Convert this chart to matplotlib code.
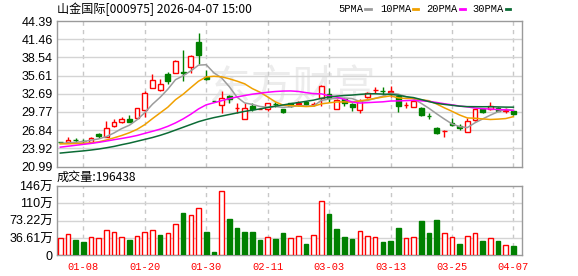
import matplotlib
matplotlib.use("Agg")
import matplotlib.pyplot as plt
from matplotlib.lines import Line2D
import numpy as np

# ---------------- data ----------------
dates = ["01-05", "01-06", "01-07", "01-08", "01-09", "01-12", "01-13", "01-14", "01-15", "01-16",
         "01-19", "01-20", "01-21", "01-22", "01-23", "01-26", "01-27", "01-28", "01-29", "01-30",
         "02-02", "02-03", "02-04", "02-05", "02-06", "02-09", "02-10", "02-11", "02-12", "02-13",
         "02-24", "02-25", "02-26", "02-27", "03-02", "03-03", "03-04", "03-05", "03-06", "03-09",
         "03-10", "03-11", "03-12", "03-13", "03-16", "03-17", "03-18", "03-19", "03-20", "03-23",
         "03-24", "03-25", "03-26", "03-27", "03-30", "03-31", "04-01", "04-02", "04-03", "04-07"]

opens = [24.92, 24.90, 25.26, 25.13, 24.90, 26.24, 25.80, 27.57, 28.12, 28.65,
         28.76, 30.14, 33.58, 33.26, 35.93, 36.09, 36.20, 36.96, 41.07, 35.35,
         31.52, 30.85, 32.30, 30.40, 28.65, 30.74, 30.22, 30.26, 31.05, 30.26,
         31.17, 31.12, 31.33, 31.06, 32.07, 32.67, 30.31, 31.86, 31.11, 30.14,
         32.14, 33.25, 33.14, 33.00, 32.39, 30.86, 30.63, 30.42, 29.17, 27.25,
         26.68, 28.05, 27.52, 26.61, 28.49, 30.21, 30.31, 30.42, 29.95, 29.98]

highs = [24.95, 25.80, 25.64, 25.48, 25.71, 26.45, 28.33, 28.60, 28.97, 29.24,
         30.47, 33.20, 35.88, 35.03, 36.20, 38.13, 39.74, 38.99, 42.52, 36.53,
         31.55, 33.10, 32.51, 31.27, 31.27, 31.27, 30.45, 31.25, 31.43, 30.30,
         31.25, 31.53, 31.43, 31.43, 34.11, 33.58, 31.91, 32.02, 31.27, 31.86,
         33.04, 33.84, 33.84, 33.95, 32.67, 31.33, 31.81, 30.63, 29.66, 27.36,
         26.80, 28.76, 27.89, 28.76, 30.31, 30.37, 31.38, 30.53, 30.37, 30.14]

lows = [24.85, 24.85, 24.90, 24.79, 24.74, 25.64, 25.80, 27.31, 27.95, 28.22,
        28.60, 29.02, 33.58, 33.20, 34.32, 35.99, 34.81, 35.99, 37.55, 34.92,
        31.45, 29.66, 31.22, 29.66, 28.60, 29.98, 30.18, 29.98, 30.63, 29.65,
        30.58, 30.79, 30.79, 30.69, 30.69, 31.43, 30.21, 30.74, 29.98, 29.62,
        31.98, 32.88, 32.46, 32.14, 29.73, 30.37, 30.53, 29.13, 28.60, 26.24,
        25.80, 27.47, 26.83, 26.56, 28.38, 29.66, 30.14, 29.88, 29.61, 29.34]

closes = [24.90, 25.30, 25.24, 25.11, 25.54, 25.96, 27.15, 28.17, 28.65, 28.22,
          30.37, 32.83, 34.92, 34.28, 34.71, 38.02, 36.04, 38.80, 38.90, 35.03,
          31.49, 31.98, 31.78, 30.46, 30.37, 30.30, 30.28, 31.17, 31.01, 29.73,
          30.79, 31.17, 31.01, 31.11, 34.00, 31.98, 31.70, 31.27, 30.63, 31.59,
          32.88, 33.31, 33.10, 33.06, 30.79, 30.92, 31.59, 29.34, 29.13, 26.35,
          26.74, 27.64, 27.15, 28.38, 30.21, 29.82, 30.69, 29.98, 30.00, 29.45]

ma5 = [24.72, 24.78, 24.88, 25.00, 25.22, 25.43, 25.80, 26.39, 27.09, 27.63,
       28.51, 29.65, 31.00, 32.12, 33.42, 34.95, 35.59, 36.37, 37.29, 37.36,
       36.05, 35.24, 33.84, 32.15, 31.22, 30.98, 30.64, 30.52, 30.63, 30.50,
       30.60, 30.77, 30.74, 30.76, 31.62, 31.85, 31.96, 32.01, 31.92, 31.43,
       31.61, 31.94, 32.30, 32.79, 32.63, 32.24, 31.89, 31.14, 30.35, 29.47,
       28.63, 27.84, 27.40, 27.25, 28.02, 28.64, 29.25, 29.79, 30.19, 30.04]

ma10 = [24.62, 24.64, 24.68, 24.73, 24.80, 24.95, 25.25, 25.60, 25.98, 26.42,
        26.97, 27.72, 28.69, 29.61, 30.53, 31.73, 32.62, 33.68, 34.71, 35.39,
        35.50, 35.42, 35.10, 34.72, 34.29, 33.52, 32.94, 32.18, 31.39, 30.86,
        30.79, 30.71, 30.63, 30.69, 31.06, 31.23, 31.37, 31.38, 31.34, 31.53,
        31.73, 31.95, 32.16, 32.35, 32.03, 31.93, 31.91, 31.72, 31.57, 31.05,
        30.43, 29.87, 29.27, 28.80, 28.75, 28.64, 28.55, 28.61, 28.70, 29.01]

ma20 = [24.10, 24.25, 24.40, 24.55, 24.70, 24.88, 25.08, 25.30, 25.50, 25.72,
        25.98, 26.32, 26.65, 27.00, 27.45, 28.00, 28.65, 29.40, 30.25, 30.91,
        31.24, 31.57, 31.90, 32.17, 32.41, 32.62, 32.78, 32.93, 33.05, 33.12,
        33.14, 33.06, 32.87, 32.71, 32.67, 32.37, 32.15, 31.78, 31.36, 31.19,
        31.26, 31.33, 31.39, 31.52, 31.54, 31.58, 31.64, 31.55, 31.46, 31.29,
        31.08, 30.91, 30.71, 30.58, 30.39, 30.28, 30.23, 30.15, 30.12, 30.01]

ma30 = [23.15, 23.27, 23.39, 23.50, 23.64, 23.80, 24.00, 24.22, 24.50, 24.75,
        25.05, 25.35, 25.65, 26.00, 26.40, 26.85, 27.30, 27.75, 28.20, 28.55,
        28.85, 29.10, 29.35, 29.60, 29.85, 30.05, 30.25, 30.48, 30.70, 30.89,
        31.09, 31.28, 31.47, 31.67, 31.96, 32.16, 32.31, 32.41, 32.48, 32.59,
        32.67, 32.69, 32.63, 32.59, 32.46, 32.22, 32.07, 31.76, 31.43, 31.14,
        30.98, 30.84, 30.69, 30.62, 30.61, 30.60, 30.61, 30.57, 30.54, 30.53]

# volume in units of 10k (万)
volume = [36.0, 44.4, 32.4, 28.1, 38.1, 36.0, 53.5, 48.7, 38.1, 32.4,
          40.2, 48.7, 53.5, 43.0, 46.6, 65.6, 89.5, 84.6, 99.5, 49.3,
          7.0, 135.4, 76.2, 57.8, 49.3, 49.3, 33.0, 38.1, 34.5, 47.2,
          36.0, 40.2, 23.9, 42.3, 114.9, 87.4, 55.7, 38.7, 34.5, 51.4,
          40.8, 38.7, 28.1, 30.3, 57.8, 36.0, 38.7, 72.6, 47.2, 74.7,
          46.6, 38.7, 23.9, 40.8, 46.6, 30.3, 36.6, 30.3, 21.8, 19.6438]

price_ticks = [20.99, 23.92, 26.84, 29.77, 32.69, 35.61, 38.54, 41.46, 44.39]
vol_ticks = [0, 36.61, 73.22, 109.83, 146.44]
vol_tick_labels = ["0", "36.61万", "73.22万", "110万", "146万"]
date_tick_idx = [3, 11, 19, 27, 35, 43, 51, 59]

title = "山金国际[000975] 2026-04-07 15:00"
vol_title = "成交量:196438"
legend_names = ["5PMA", "10PMA", "20PMA", "30PMA"]

# ---------------- styling ----------------
RED = "#ff0000"
GREEN = "#008000"
MA_COLORS = ["#9c9c9c", "#f0a000", "#ff00ff", "#0b6b35"]
GRID = "#d4d4d4"
SPINE = "#9a9a9a"
CJK = ["Noto Sans CJK SC", "DejaVu Sans"]
NUM = ["Liberation Sans", "Noto Sans CJK SC"]

W, H = 578, 276
fig = plt.figure(figsize=(W / 100, H / 100), dpi=100)
fig.patch.set_facecolor("white")
L, R = 57, 522
ax = fig.add_axes([L / W, 1 - 166.5 / H, (R - L) / W, (166.5 - 21) / H])
axv = fig.add_axes([L / W, 1 - 255.3 / H, (R - L) / W, (255.3 - 186) / H])

o = np.array(opens); c = np.array(closes)
hi = np.array(highs); lo = np.array(lows)
x = np.arange(len(c))
cand_up = c > o
cand_col = np.where(cand_up, RED, GREEN)
cand_face = np.where(cand_up, "white", GREEN)

prev = np.concatenate([[c[0]], c[:-1]])
vol_up = c >= prev
vol_col = np.where(vol_up, RED, GREEN)
vol_face = np.where(vol_up, "white", GREEN)

xlim = (-0.43, 60.12)
for a in (ax, axv):
    a.set_xlim(*xlim)
    a.set_xticks(date_tick_idx)
    a.tick_params(axis="both", length=0)
    for s in a.spines.values():
        s.set_color(SPINE)
        s.set_linewidth(1)
    for xi in date_tick_idx:
        a.axvline(xi, color="#c8c8c8", lw=1, ls=(0, (3, 3)), zorder=1)

# watermark
ax.text(0.505, 0.53, "东方财富", transform=ax.transAxes, ha="center", va="center",
        fontsize=30, color="#ececec", family=CJK, zorder=0.5)

# price panel
ax.set_ylim(price_ticks[0], price_ticks[-1])
ax.set_yticks(price_ticks)
ax.set_yticklabels([f"{t:.2f}" for t in price_ticks], family=NUM, fontsize=9)
for t in price_ticks[1:-1]:
    ax.axhline(t, color=GRID, lw=1, zorder=1)
ax.tick_params(axis="y", pad=3)
ax.set_xticklabels([])

ax.vlines(x, lo, hi, colors=cand_col, lw=1, zorder=3)
ax.bar(x, np.abs(c - o), bottom=np.minimum(o, c), width=0.62, color=cand_face,
       edgecolor=cand_col, lw=1, zorder=4)

for ma, col in zip([ma5, ma10, ma20, ma30], MA_COLORS):
    ax.plot(x, ma, color=col, lw=1.1, zorder=5)

# volume panel
axv.set_ylim(vol_ticks[0], vol_ticks[-1])
axv.set_yticks(vol_ticks)
axv.set_yticklabels(vol_tick_labels, family=NUM, fontsize=9)
for t in vol_ticks[1:-1]:
    axv.axhline(t, color=GRID, lw=1, zorder=1)
axv.tick_params(axis="y", pad=3)
axv.bar(x, volume, width=0.6, color=vol_face, edgecolor=vol_col, lw=1, zorder=3)
axv.set_xticklabels([dates[i] for i in date_tick_idx], family=["Liberation Mono"],
                    fontsize=7.5, color=RED)
axv.tick_params(axis="x", pad=5)

# texts
fig.text(L / W, 1 - 9 / H, title, ha="left", va="center", fontsize=8.7, family=CJK)
fig.text(L / W, 1 - 177.5 / H, vol_title, ha="left", va="center", fontsize=8.7, family=CJK)

leg_x = [338, 380, 426, 472]
dash_x = [(365, 371), (413, 418), (460, 465), (506, 510)]
for name, lx, (d0, d1), col in zip(legend_names, leg_x, dash_x, MA_COLORS):
    fig.text(lx / W, 1 - 8.5 / H, name, ha="left", va="center", fontsize=7.5,
             family=["Liberation Mono"])
    fig.add_artist(Line2D([d0 / W, d1 / W], [1 - 8.5 / H, 1 - 8.5 / H],
                          transform=fig.transFigure, color=col, lw=2))

fig.savefig("out.png", dpi=100, facecolor="white")
